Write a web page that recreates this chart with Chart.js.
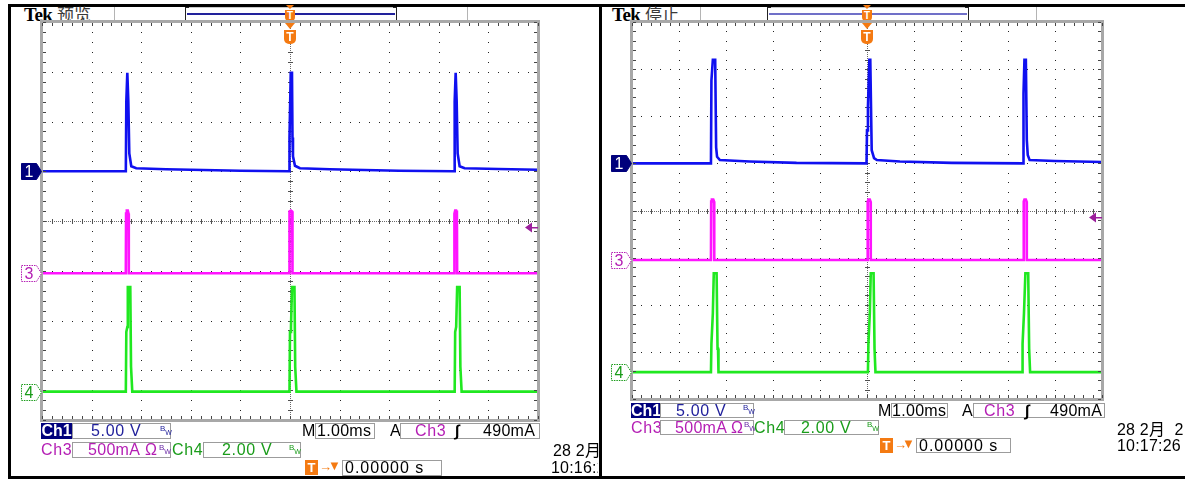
<!DOCTYPE html>
<html lang="zh-CN">
<head>
<meta charset="UTF-8">
<title>Tek 示波器截图</title>
<style>
  body { margin:0; background:#fff; }
  #page { position:relative; width:1185px; height:479px; overflow:hidden; background:#fff; font-family:'Liberation Sans',Arial,sans-serif; }
  .abs { position:absolute; white-space:nowrap; }
  .bar { position:absolute; background:#000; }
  .sep { position:absolute; width:1px; background:#b4b4b4; }
  .box { position:absolute; border:1px solid #9c9c9c; background:#fff; box-sizing:border-box; }
  .t { position:absolute; white-space:nowrap; font-size:16px; line-height:16px; letter-spacing:0.7px; }
  .date { letter-spacing:0.2px; }
  .bw { position:absolute; font-size:8px; line-height:8px; }
  .bw i { font-style:normal; position:relative; top:4px; font-size:7px; }
  .tek { position:absolute; font:bold 19px 'Liberation Serif',serif; line-height:19px; letter-spacing:-0.5px; }
  .mode { position:absolute; font:400 17px 'Noto Sans CJK SC',sans-serif; line-height:19px; color:#3a3a3a; }
  .rec { position:absolute; border:1px solid #c8c8c8; box-sizing:border-box; }
  .rec:before, .rec:after { content:''; position:absolute; top:-1px; bottom:-1px; width:3px; border:1px solid #222; }
  .rec:before { left:-1px; border-right:none; }
  .rec:after { right:-1px; border-left:none; }
  .tmark { position:absolute; width:12px; }
  .tmark .tri { width:0; height:0; margin:0 auto; border-left:5px solid transparent; border-right:5px solid transparent; border-top:6px solid #f47a12; }
  .tmark .sh { height:14px; background:#f47a12; border-radius:0 0 5px 5px; color:#fff; text-align:center; font:bold 12px 'Liberation Sans',Arial; line-height:14px; margin-top:1px; }
  .tmark.small { width:10px; }
  .tmark.small .tri { border-left-width:4px; border-right-width:4px; border-top-width:4px; }
  .tmark.small .sh { height:11px; font-size:10px; line-height:11px; border-radius:0 0 4px 4px; }
  .ticon { position:absolute; width:13px; height:15px; background:#f47a12; color:#fff; font:bold 13px 'Liberation Sans',Arial; line-height:15px; text-align:center; }
  canvas { position:absolute; }
</style>
</head>
<body>
<div id="page">

  <!-- 黑色外框 -->
  <div class="bar" style="left:8px;top:4px;width:1177px;height:3px"></div>
  <div class="bar" style="left:8px;top:476px;width:1177px;height:3px"></div>
  <div class="bar" style="left:8px;top:4px;width:3px;height:475px"></div>
  <div class="bar" style="left:599px;top:4px;width:3px;height:475px;z-index:5"></div>

  <!-- 左屏 标题 -->
  <div class="tek" style="left:24px;top:5px">Tek</div>
  <div class="mode" style="left:57px;top:4px">预览</div>
  <div class="sep" style="left:114px;top:7px;height:16px"></div>
  <div class="sep" style="left:467px;top:7px;height:16px"></div>
  <div class="rec" style="left:185px;top:7px;width:212px;height:15px"></div>
  <div class="abs" style="left:187px;top:13px;width:208px;height:2px;background:#22229c"></div>
  <div class="tmark small" style="left:285px;top:5px"><div class="tri"></div><div class="sh">T</div></div>

  <!-- 右屏 标题 -->
  <div class="tek" style="left:612px;top:5px">Tek</div>
  <div class="mode" style="left:645px;top:4px">停止</div>
  <div class="sep" style="left:700px;top:7px;height:16px"></div>
  <div class="sep" style="left:1036px;top:7px;height:16px"></div>
  <div class="rec" style="left:767px;top:7px;width:202px;height:15px"></div>
  <div class="abs" style="left:769px;top:13px;width:198px;height:2px;background:#7070c8"></div>
  <div class="tmark small" style="left:862px;top:5px"><div class="tri"></div><div class="sh">T</div></div>

  <canvas id="scopeL" width="528" height="406" style="left:16px;top:18px"></canvas>
  <canvas id="scopeR" width="502" height="385" style="left:606px;top:18px"></canvas>

  <!-- 左屏 读数 -->
  <div class="t" style="left:41px;top:423px;width:31px;height:16px;background:#00007c;color:#fff;font-weight:bold;text-align:center;letter-spacing:0">Ch1</div>
  <div class="box" style="left:72px;top:423px;width:99px;height:16px"></div>
  <div class="t" style="left:91px;top:423px;color:#22229c">5.00 V</div>
  <div class="bw" style="left:160px;top:425px;color:#22229c">B<i>W</i></div>
  <div class="t" style="left:302px;top:423px">M</div>
  <div class="box" style="left:315px;top:423px;width:60px;height:16px"></div>
  <div class="t" style="left:317px;top:423px;letter-spacing:0.3px">1.00ms</div>
  <div class="t" style="left:390px;top:423px">A</div>
  <div class="box" style="left:400px;top:423px;width:140px;height:16px"></div>
  <div class="t" style="left:415px;top:423px;color:#b41eb4">Ch3</div>
  <div class="t" style="left:455px;top:423px;font-weight:bold">&#x222B;</div>
  <div class="t" style="left:483px;top:423px;letter-spacing:0.3px">490mA</div>

  <div class="t" style="left:41px;top:442px;color:#b41eb4">Ch3</div>
  <div class="box" style="left:72px;top:442px;width:99px;height:16px"></div>
  <div class="t" style="left:88px;top:442px;color:#b41eb4;letter-spacing:0.3px">500mA</div>
  <div class="t" style="left:145px;top:442px;color:#b41eb4">&#x3A9;</div>
  <div class="bw" style="left:159px;top:444px;color:#6a2aa6">B<i>W</i></div>
  <div class="t" style="left:172px;top:442px;color:#1a9c1a">Ch4</div>
  <div class="box" style="left:203px;top:442px;width:98px;height:16px"></div>
  <div class="t" style="left:222px;top:442px;color:#1a9c1a">2.00 V</div>
  <div class="bw" style="left:289px;top:444px;color:#1a9c1a">B<i>W</i></div>

  <div class="ticon" style="left:305px;top:460px">T</div>
  <div class="t" style="left:319px;top:459px;color:#f47a12;font-size:13px">&#x2192;</div>
  <div class="t" style="left:328px;top:458px;color:#f47a12;font-size:13px">&#x25BC;</div>
  <div class="box" style="left:342px;top:460px;width:100px;height:16px"></div>
  <div class="t" style="left:345px;top:460px;letter-spacing:1px">0.00000 s</div>

  <div class="t date" style="left:553px;top:443px;width:46px;overflow:hidden">28 2月</div>
  <div class="t date" style="left:551px;top:460px;width:47px;overflow:hidden">10:16:26</div>

  <!-- 右屏 读数 -->
  <div class="t" style="left:631px;top:403px;width:29px;height:15px;line-height:15px;background:#00007c;color:#fff;font-weight:bold;text-align:center;letter-spacing:0">Ch1</div>
  <div class="box" style="left:660px;top:403px;width:94px;height:15px"></div>
  <div class="t" style="left:676px;top:403px;color:#22229c">5.00 V</div>
  <div class="bw" style="left:743px;top:404px;color:#22229c">B<i>W</i></div>
  <div class="t" style="left:878px;top:403px">M</div>
  <div class="box" style="left:891px;top:403px;width:57px;height:15px"></div>
  <div class="t" style="left:892px;top:403px;letter-spacing:0.3px">1.00ms</div>
  <div class="t" style="left:962px;top:403px">A</div>
  <div class="box" style="left:973px;top:403px;width:132px;height:15px"></div>
  <div class="t" style="left:984px;top:403px;color:#b41eb4">Ch3</div>
  <div class="t" style="left:1025px;top:403px;font-weight:bold">&#x222B;</div>
  <div class="t" style="left:1050px;top:403px;letter-spacing:0.3px">490mA</div>

  <div class="t" style="left:631px;top:420px;color:#b41eb4">Ch3</div>
  <div class="box" style="left:660px;top:420px;width:94px;height:15px"></div>
  <div class="t" style="left:675px;top:420px;color:#b41eb4;letter-spacing:0.3px">500mA</div>
  <div class="t" style="left:731px;top:420px;color:#b41eb4">&#x3A9;</div>
  <div class="bw" style="left:744px;top:421px;color:#6a2aa6">B<i>W</i></div>
  <div class="t" style="left:754px;top:420px;color:#1a9c1a">Ch4</div>
  <div class="box" style="left:784px;top:420px;width:95px;height:15px"></div>
  <div class="t" style="left:801px;top:420px;color:#1a9c1a">2.00 V</div>
  <div class="bw" style="left:867px;top:421px;color:#1a9c1a">B<i>W</i></div>

  <div class="ticon" style="left:880px;top:438px">T</div>
  <div class="t" style="left:894px;top:437px;color:#f47a12;font-size:13px">&#x2192;</div>
  <div class="t" style="left:902px;top:436px;color:#f47a12;font-size:13px">&#x25BC;</div>
  <div class="box" style="left:916px;top:438px;width:95px;height:15px"></div>
  <div class="t" style="left:919px;top:438px;letter-spacing:1px">0.00000 s</div>

  <div class="t date" style="left:1117px;top:422px">28 2月&nbsp;&nbsp;2</div>
  <div class="t date" style="left:1117px;top:438px">10:17:26</div>
</div>

<script src="https://cdn.jsdelivr.net/npm/chart.js"></script>
<script>
// 时基 1.00ms/div，横轴 -5..5 div，纵轴 -4..4 div
const X_DIVS = [-5, 5];
const Y_DIVS = [-4, 4];

// 各通道 伏/格 与 位置(格)
const ch1PerDiv = 5.0,  ch1Pos = 1.0;
const ch3PerDiv = 0.5,  ch3Pos = -1.05;
const ch4PerDiv = 2.0,  ch4Pos = -3.43;
const trigLevel = 0.49;   // Ch3 490mA

// 左屏 (预览)
const leftCh1Time  = [-5.00, -3.31, -3.30, -3.28, -3.26, -3.24, -3.20, -3.10, -2.50, -1.00, -0.02, -0.01, 0.015, 0.04, 0.05, 0.06, 0.10, 0.20, 0.80, 2.20, 3.31, 3.32, 3.34, 3.36, 3.38, 3.42, 3.52, 4.20, 5.00];
const leftCh1Volts = [0.00, 0.00, 7.0, 9.9, 7.1, 1.8, 0.5, 0.30, 0.20, 0.05, 0.00, 3.4, 9.9, 9.9, 3.4, 1.5, 0.55, 0.30, 0.20, 0.05, 0.00, 7.0, 9.9, 7.1, 1.8, 0.5, 0.30, 0.22, 0.15];

const leftCh3Time  = [-5.00, -3.31, -3.305, -3.29, -3.27, -3.255, -3.25, -0.015, -0.01, 0.02, 0.045, 0.05, 3.31, 3.315, 3.33, 3.35, 3.365, 3.37, 5.00];
const leftCh3Amps  = [0, 0, 0.60, 0.63, 0.63, 0.60, 0, 0, 0.62, 0.63, 0.62, 0, 0, 0.60, 0.63, 0.63, 0.60, 0, 0];

const leftCh4Time  = [-5.00, -3.31, -3.30, -3.28, -3.27, -3.22, -3.205, -3.195, -3.18, -0.01, 0.00, 0.02, 0.04, 0.09, 0.105, 0.12, 0.13, 3.32, 3.33, 3.35, 3.37, 3.42, 3.435, 3.445, 3.46, 5.00];
const leftCh4Volts = [0, 0, 2.4, 2.6, 4.2, 4.2, 1.0, 1.0, 0, 0, 2.4, 2.6, 4.2, 4.2, 1.0, 1.0, 0, 0, 2.4, 2.6, 4.2, 4.2, 1.0, 1.0, 0, 0];

// 右屏 (停止)
const rightCh1Time  = [-5.00, -3.32, -3.31, -3.28, -3.23, -3.21, -3.19, -3.13, -2.50, -1.50, -0.01, 0.00, 0.02, 0.05, 0.07, 0.10, 0.15, 0.21, 0.70, 1.80, 3.32, 3.33, 3.35, 3.38, 3.40, 3.42, 3.46, 4.00, 5.00];
const rightCh1Volts = [0.00, 0.00, 8.8, 11.0, 11.0, 1.7, 0.7, 0.35, 0.20, 0.05, 0.00, 3.5, 6.0, 11.0, 11.0, 1.4, 0.55, 0.35, 0.20, 0.05, 0.00, 7.4, 11.0, 11.0, 2.5, 0.9, 0.35, 0.25, 0.15];

const rightCh3Time  = [-5.00, -3.32, -3.315, -3.30, -3.27, -3.255, -3.25, 0.01, 0.015, 0.03, 0.06, 0.075, 0.08, 3.33, 3.335, 3.35, 3.38, 3.395, 3.40, 5.00];
const rightCh3Amps  = [0, 0, 0.62, 0.64, 0.64, 0.62, 0, 0, 0.62, 0.64, 0.64, 0.62, 0, 0, 0.62, 0.64, 0.64, 0.62, 0, 0];

const rightCh4Time  = [-5.00, -3.32, -3.31, -3.28, -3.26, -3.20, -3.18, -3.17, -3.16, 0.02, 0.03, 0.06, 0.08, 0.14, 0.16, 0.17, 0.18, 3.30, 3.31, 3.34, 3.37, 3.43, 3.45, 3.46, 3.47, 5.00];
const rightCh4Volts = [0, 0, 1.2, 2.5, 4.2, 4.2, 1.0, 1.0, 0, 0, 1.2, 2.5, 4.2, 4.2, 1.0, 1.0, 0, 0, 1.2, 2.5, 4.2, 4.2, 1.0, 1.0, 0, 0];

const CH1_COLOR = '#1010f0', CH3_COLOR = '#ff14ff', CH4_COLOR = '#20e820';

function trace(label, times, values, perDiv, pos, color) {
  return {
    label,
    data: times.map((t, i) => ({ x: t, y: values[i] / perDiv + pos })),
    borderColor: color,
    borderWidth: 2.6,
    pointRadius: 0,
    tension: 0,
    fill: false
  };
}

// 刻度网格：点状主格线、中心十字带细刻度、边框刻度
const graticule = {
  id: 'graticule',
  beforeDatasetsDraw(chart) {
    const { ctx, chartArea: a, scales: { x, y } } = chart;
    ctx.save();
    ctx.fillStyle = '#222';
    for (let i = X_DIVS[0] + 1; i < X_DIVS[1]; i++) {
      if (i === 0) continue;
      const px = Math.round(x.getPixelForValue(i));
      for (let k = Y_DIVS[0] * 5; k <= Y_DIVS[1] * 5; k++) {
        ctx.fillRect(px, Math.round(y.getPixelForValue(k / 5)), 1, 1);
      }
    }
    for (let j = Y_DIVS[0] + 1; j < Y_DIVS[1]; j++) {
      if (j === 0) continue;
      const py = Math.round(y.getPixelForValue(j));
      for (let k = X_DIVS[0] * 5; k <= X_DIVS[1] * 5; k++) {
        ctx.fillRect(Math.round(x.getPixelForValue(k / 5)), py, 1, 1);
      }
    }
    const cx = Math.round(x.getPixelForValue(0)), cy = Math.round(y.getPixelForValue(0));
    ctx.fillStyle = '#6a6a6a';
    for (let p = Math.round(a.left); p < a.right; p += 2) ctx.fillRect(p, cy, 1, 1);
    for (let p = Math.round(a.top); p < a.bottom; p += 2) ctx.fillRect(cx, p, 1, 1);
    ctx.fillStyle = '#505050';
    for (let k = X_DIVS[0] * 5; k <= X_DIVS[1] * 5; k++) {
      ctx.fillRect(Math.round(x.getPixelForValue(k / 5)), cy - 2, 1, 5);
    }
    for (let k = Y_DIVS[0] * 5; k <= Y_DIVS[1] * 5; k++) {
      ctx.fillRect(cx - 2, Math.round(y.getPixelForValue(k / 5)), 5, 1);
    }
    ctx.restore();
  },
  afterDatasetsDraw(chart) {
    const { ctx, chartArea: a, scales: { x, y } } = chart;
    ctx.save();
    ctx.strokeStyle = '#a8a8a8';
    ctx.lineWidth = 3;
    ctx.strokeRect(a.left - 0.5, a.top - 0.5, a.right - a.left + 1, a.bottom - a.top + 1);
    ctx.fillStyle = '#454545';
    for (let k = X_DIVS[0] * 5; k <= X_DIVS[1] * 5; k++) {
      const px = Math.round(x.getPixelForValue(k / 5));
      ctx.fillRect(px, a.top + 1, 1, 3);
      ctx.fillRect(px, a.bottom - 4, 1, 3);
    }
    for (let k = Y_DIVS[0] * 5; k <= Y_DIVS[1] * 5; k++) {
      const py = Math.round(y.getPixelForValue(k / 5));
      ctx.fillRect(a.left + 1, py, 3, 1);
      ctx.fillRect(a.right - 4, py, 3, 1);
    }
    ctx.restore();
  }
};

function makeScope(id, datasets) {
  return new Chart(document.getElementById(id), {
    type: 'line',
    data: { datasets },
    options: {
      responsive: false,
      animation: false,
      events: [],
      layout: { padding: { left: 26, right: 6, top: 4, bottom: 4 } },
      plugins: { legend: { display: false }, tooltip: { enabled: false } },
      scales: {
        x: { type: 'linear', min: X_DIVS[0], max: X_DIVS[1], display: false },
        y: { type: 'linear', min: Y_DIVS[0], max: Y_DIVS[1], display: false }
      }
    },
    plugins: [graticule]
  });
}

function chMarker(num, fill, stroke, textColor, dashed) {
  return `<svg width="21" height="17" viewBox="0 0 21 17"><polygon points="0.5,0.5 15.5,0.5 20.5,8.5 15.5,16.5 0.5,16.5" fill="${fill}" stroke="${stroke}"${dashed ? ' stroke-dasharray="1.5 1"' : ''}/>` +
         `<text x="8" y="14" text-anchor="middle" font-family="Liberation Sans, Arial" font-size="16" fill="${textColor}">${num}</text></svg>`;
}

// 通道标记、触发位置 T、触发电平箭头：位置取自图表坐标轴
function addOverlays(chart, canvas) {
  const page = document.getElementById('page');
  const ox = canvas.offsetLeft, oy = canvas.offsetTop;
  const a = chart.chartArea, x = chart.scales.x, y = chart.scales.y;
  const put = (html, left, top) => {
    const d = document.createElement('div');
    d.className = 'abs';
    d.style.left = left + 'px';
    d.style.top = top + 'px';
    d.innerHTML = html;
    page.appendChild(d);
    return d;
  };
  put(chMarker('1', '#00007c', '#00007c', '#fff', false), ox + a.left - 21, Math.round(oy + y.getPixelForValue(ch1Pos) - 8));
  put(chMarker('3', '#fff', '#b41eb4', '#b41eb4', true), ox + a.left - 21, Math.round(oy + y.getPixelForValue(ch3Pos) - 8));
  put(chMarker('4', '#fff', '#1a9c1a', '#1a9c1a', true), ox + a.left - 21, Math.round(oy + y.getPixelForValue(ch4Pos) - 8));

  const tx = Math.round(ox + x.getPixelForValue(0));
  const t = put('<div class="tri"></div><div class="sh">T</div>', tx - 6, oy + a.top + 1);
  t.className = 'tmark';

  const ly = Math.round(oy + y.getPixelForValue(trigLevel / ch3PerDiv + ch3Pos));
  put('<svg width="14" height="11" viewBox="0 0 14 11"><polygon points="0,5.5 7,0.5 7,10.5" fill="#9c1f9c"/><rect x="7" y="5" width="6" height="1.5" fill="#9c1f9c"/></svg>',
      Math.round(ox + a.right - 13), ly - 5);
}

const leftChart = makeScope('scopeL', [
  trace('Ch1', leftCh1Time, leftCh1Volts, ch1PerDiv, ch1Pos, CH1_COLOR),
  trace('Ch3', leftCh3Time, leftCh3Amps, ch3PerDiv, ch3Pos, CH3_COLOR),
  trace('Ch4', leftCh4Time, leftCh4Volts, ch4PerDiv, ch4Pos, CH4_COLOR)
]);
const rightChart = makeScope('scopeR', [
  trace('Ch1', rightCh1Time, rightCh1Volts, ch1PerDiv, ch1Pos, CH1_COLOR),
  trace('Ch3', rightCh3Time, rightCh3Amps, ch3PerDiv, ch3Pos, CH3_COLOR),
  trace('Ch4', rightCh4Time, rightCh4Volts, ch4PerDiv, ch4Pos, CH4_COLOR)
]);

addOverlays(leftChart, document.getElementById('scopeL'));
addOverlays(rightChart, document.getElementById('scopeR'));
</script>
</body>
</html>
